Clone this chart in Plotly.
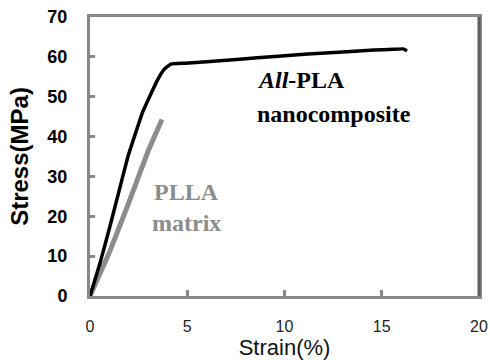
import plotly.graph_objects as go

# Tensile curves: strain (%) vs. stress (MPa)
nano_strain = [0, 0.5, 1.0, 1.45, 1.95, 2.72, 3.44, 3.8, 4.15, 4.9, 6.0, 7.7, 9.5, 11.2, 13.0, 14.6, 15.6, 16.1, 16.3]
nano_stress = [0, 8.0, 17.0, 25.5, 35.0, 46.3, 53.9, 56.8, 58.2, 58.4, 58.8, 59.4, 60.1, 60.7, 61.2, 61.7, 61.9, 62.0, 61.5]

plla_strain = [0, 1.0, 2.0, 3.0, 3.7]
plla_stress = [0, 11.0, 23.5, 36.5, 44.3]

x_ticks = [0, 5, 10, 15, 20]
y_ticks = [0, 10, 20, 30, 40, 50, 60, 70]

fig = go.Figure()
fig.add_trace(go.Scatter(x=plla_strain, y=plla_stress, mode="lines",
                         line=dict(color="#8c8c8c", width=5, shape="spline", smoothing=0.3),
                         showlegend=False))
fig.add_trace(go.Scatter(x=nano_strain, y=nano_stress, mode="lines",
                         line=dict(color="#000000", width=3.5, shape="spline", smoothing=0.25),
                         showlegend=False))

serif = "Liberation Serif, Times New Roman, serif"
fig.add_annotation(x=8.5, y=54.2, xref="x", yref="y", xanchor="left", yanchor="middle",
                   text="<b><i>All</i>-PLA</b>", showarrow=False,
                   font=dict(family=serif, size=24, color="#000000"))
fig.add_annotation(x=8.5, y=45.7, xref="x", yref="y", xanchor="left", yanchor="middle",
                   text="<b>nanocomposite</b>", showarrow=False,
                   font=dict(family=serif, size=24, color="#000000"))
fig.add_annotation(x=3.2, y=26.0, xref="x", yref="y", xanchor="left", yanchor="middle",
                   text="<b>PLLA</b>", showarrow=False,
                   font=dict(family=serif, size=24, color="#8c8c8c"))
fig.add_annotation(x=3.1, y=18.4, xref="x", yref="y", xanchor="left", yanchor="middle",
                   text="<b>matrix</b>", showarrow=False,
                   font=dict(family=serif, size=24, color="#8c8c8c"))

# darker right-hand frame edge
fig.add_shape(type="line", xref="paper", yref="paper", x0=1, x1=1, y0=0, y1=1,
              line=dict(color="#5f5f5f", width=3))

fig.update_xaxes(range=[0, 20], tickvals=x_ticks, ticktext=[str(v) for v in x_ticks],
                 automargin=False,
                 showgrid=False, zeroline=False, showline=True, mirror=True,
                 linecolor="#888888", linewidth=3, ticks="inside", ticklen=6,
                 tickwidth=3, tickcolor="#888888", ticklabelstandoff=14,
                 tickfont=dict(family="Arial, Liberation Sans, sans-serif", size=16, color="#222222"),
                 title=dict(text="Strain(%)", standoff=9,
                            font=dict(family="Arial, Liberation Sans, sans-serif", size=22, color="#111111")))
fig.update_yaxes(range=[0, 70], tickvals=y_ticks, ticktext=[f"<b>{v}</b>" for v in y_ticks],
                 automargin=False,
                 showgrid=False, zeroline=False, showline=True, mirror=True,
                 linecolor="#888888", linewidth=3, ticks="inside", ticklen=5,
                 tickwidth=3, tickcolor="#888888", ticklabelstandoff=16,
                 tickfont=dict(family="Arial, Liberation Sans, sans-serif", size=18, color="#000000"),
                 title=dict(text="<b>Stress(MPa)</b>", standoff=12,
                            font=dict(family="Arial, Liberation Sans, sans-serif", size=24, color="#000000")))

fig.update_layout(width=490, height=360, margin=dict(l=90, r=11, t=17, b=64),
                  plot_bgcolor="white", paper_bgcolor="white")

fig.write_html("out.html")
